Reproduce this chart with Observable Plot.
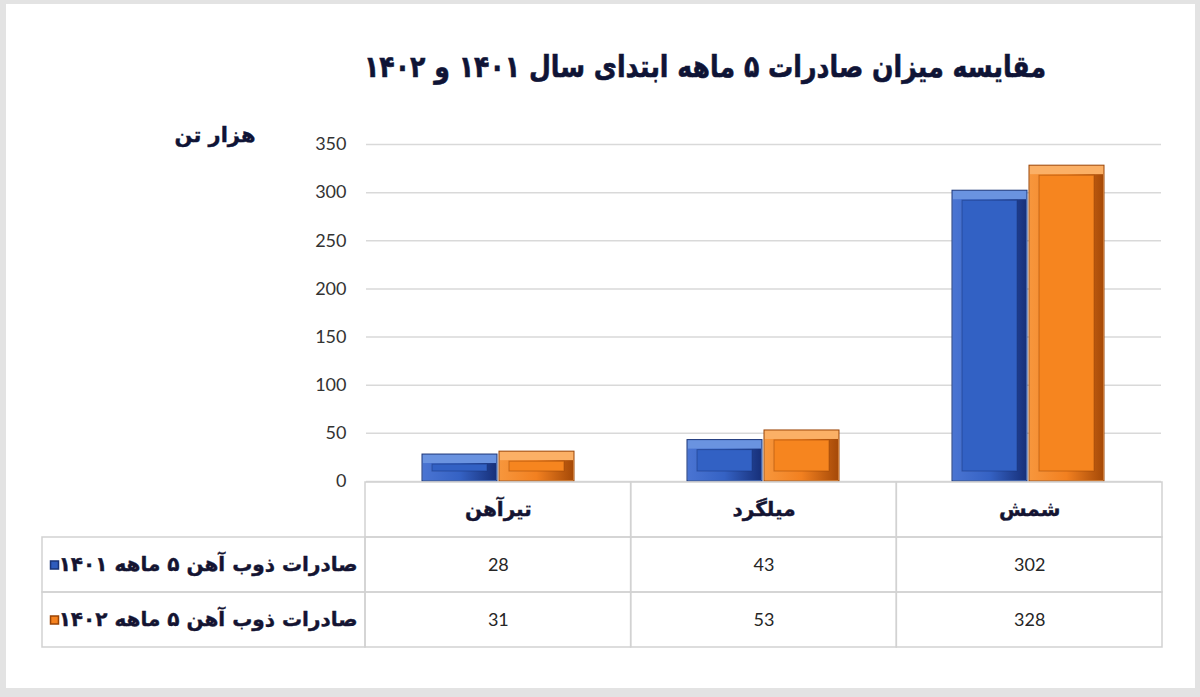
<!DOCTYPE html>
<html><head><meta charset="utf-8">
<script src="https://cdn.jsdelivr.net/npm/d3@7"></script>
<script src="https://cdn.jsdelivr.net/npm/@observablehq/plot@0.6"></script>
<style>
body{margin:0;background:#e3e3e3;width:1200px;height:697px;position:relative;overflow:hidden;font-family:"DejaVu Sans",sans-serif}
#panel{position:absolute;left:6px;top:4px;width:1189px;height:684px;background:#fff}
#title{position:absolute;left:205px;width:1000px;top:49px;text-align:center;font-weight:bold;font-size:30px;color:#0f1436;direction:rtl;transform:scaleX(0.84);transform-origin:center;-webkit-text-stroke:0.6px #0f1436}
#ylab{position:absolute;left:165px;width:100px;top:123px;text-align:center;font-weight:bold;font-size:21px;color:#0f1436;direction:rtl;-webkit-text-stroke:0.4px #0f1436}
#bars,#table{position:absolute;left:0}
#bars{top:0}
#table{top:481px}
</style></head>
<body>
<div id="panel"></div>
<div id="title">مقایسه میزان صادرات ۵ ماهه ابتدای سال ۱۴۰۱ و ۱۴۰۲</div>
<div id="ylab">هزار تن</div>
<div id="bars"></div>
<div id="table"></div>
<script>
const categories = ["تیرآهن", "میلگرد", "شمش"];
const seriesNames = ["صادرات ذوب آهن ۵ ماهه ۱۴۰۱", "صادرات ذوب آهن ۵ ماهه ۱۴۰۲"];
const values1401 = [28, 43, 302];
const values1402 = [31, 53, 328];
const yTicks = [0, 50, 100, 150, 200, 250, 300, 350];

const seriesValues = [values1401, values1402];
const data = [];
seriesNames.forEach((s, si) => categories.forEach((c, ci) => data.push({category: c, series: s, si, ci, value: seriesValues[si][ci]})));

const fills = [
  {top: "#6a93e0", side: "url(#sideBlue)", inner: "#3261c4", stroke: "#1a3478"},
  {top: "#fbb066", side: "url(#sideOrange)", inner: "#f6851f", stroke: "#9a4406"}
];

const barMarks = [];
seriesNames.forEach((s, si) => {
  const d = data.filter(r => r.si === si);
  const f = fills[si];
  barMarks.push(Plot.barY(d, {fx: "category", x: "series", y: "value", fill: f.top, stroke: f.stroke, strokeWidth: 1}));
  barMarks.push(Plot.barY(d, {fx: "category", x: "series", y: "value", fill: f.side, insetTop: 9, insetLeft: 1, insetRight: 1, insetBottom: 1}));
  barMarks.push(Plot.barY(d, {fx: "category", x: "series", y: "value", fill: f.inner, stroke: f.stroke, strokeOpacity: 0.5, inset: 10}));
});

const bars = Plot.plot({
  width: 1200, height: 490,
  marginTop: 144, marginBottom: 9, marginLeft: 365, marginRight: 38,
  style: {background: "transparent", overflow: "visible"},
  fx: {domain: categories, padding: 0, axis: null, label: null},
  x: {domain: seriesNames, paddingInner: 0.02, paddingOuter: 0.72, axis: null},
  y: {domain: [0, 350], label: null},
  marks: [
    Plot.gridY(yTicks, {stroke: "#d9d9d9", strokeOpacity: 1, strokeWidth: 1.5}),
    Plot.axisY(yTicks, {tickSize: 0, tickPadding: 20, fontSize: 18, fill: "#333", fontFamily: "Lato, sans-serif", label: null}),
    ...barMarks
  ]
});
document.getElementById("bars").appendChild(bars);

// gradients
const defs = d3.select(bars).insert("defs", ":first-child");
function grad(id, stops) {
  const g = defs.append("linearGradient").attr("id", id).attr("x1", 0).attr("x2", 1).attr("y1", 0).attr("y2", 0);
  stops.forEach(([o, c]) => g.append("stop").attr("offset", o).attr("stop-color", c));
}
grad("sideBlue", [[0, "#4a74d2"], [0.5, "#3562c4"], [1, "#17307a"]]);
grad("sideOrange", [[0, "#f7963c"], [0.5, "#f28020"], [1, "#a64a08"]]);

// table
const labelStart = -323 / 265.67;
const rowKeys = ["header", ...seriesNames];
const cells = [];
rowKeys.forEach((r, ri) => {
  if (ri > 0) cells.push({row: r, x1: labelStart, x2: 0});
  categories.forEach((c, ci) => cells.push({row: r, x1: ci, x2: ci + 1}));
});
const valueCells = data.map(d => ({row: d.series, x: d.ci + 0.5, text: String(d.value)}));
const headerCells = categories.map((c, ci) => ({row: "header", x: ci + 0.5, text: c}));

const table = Plot.plot({
  width: 1200, height: 167,
  marginTop: 1, marginBottom: 1, marginLeft: 42, marginRight: 38,
  style: {background: "transparent", overflow: "visible"},
  x: {type: "linear", domain: [labelStart, 3], axis: null},
  y: {type: "band", domain: rowKeys, padding: 0, axis: null},
  marks: [
    Plot.barX(cells, {x1: "x1", x2: "x2", y: "row", fill: "none", stroke: "#d2d2d2", strokeWidth: 1.5}),
    Plot.text(headerCells, {x: "x", y: "row", text: "text", fontSize: 20, fontWeight: "bold", fill: "#141432", fontFamily: "DejaVu Sans", stroke: "#141432", strokeWidth: 0.4}),
    Plot.text(valueCells, {x: "x", y: "row", text: "text", fontSize: 18, fill: "#262626", fontFamily: "Lato, sans-serif"}),
    Plot.text(seriesNames, {x: () => 0, y: d => d, text: d => d, dx: -8, textAnchor: "end", fontSize: 20, fontWeight: "bold", fill: "#141432", stroke: "#141432", strokeWidth: 0.4, fontFamily: "DejaVu Sans"}),
    Plot.dot(seriesNames, {x: () => labelStart, y: d => d, dx: 12, symbol: "square", r: 4.5, fill: (d, i) => i === 0 ? "#2f5cbd" : "#f5821f", stroke: (d, i) => i === 0 ? "#1a3478" : "#9a4406"})
  ]
});
document.getElementById("table").appendChild(table);
</script>
</body></html>
